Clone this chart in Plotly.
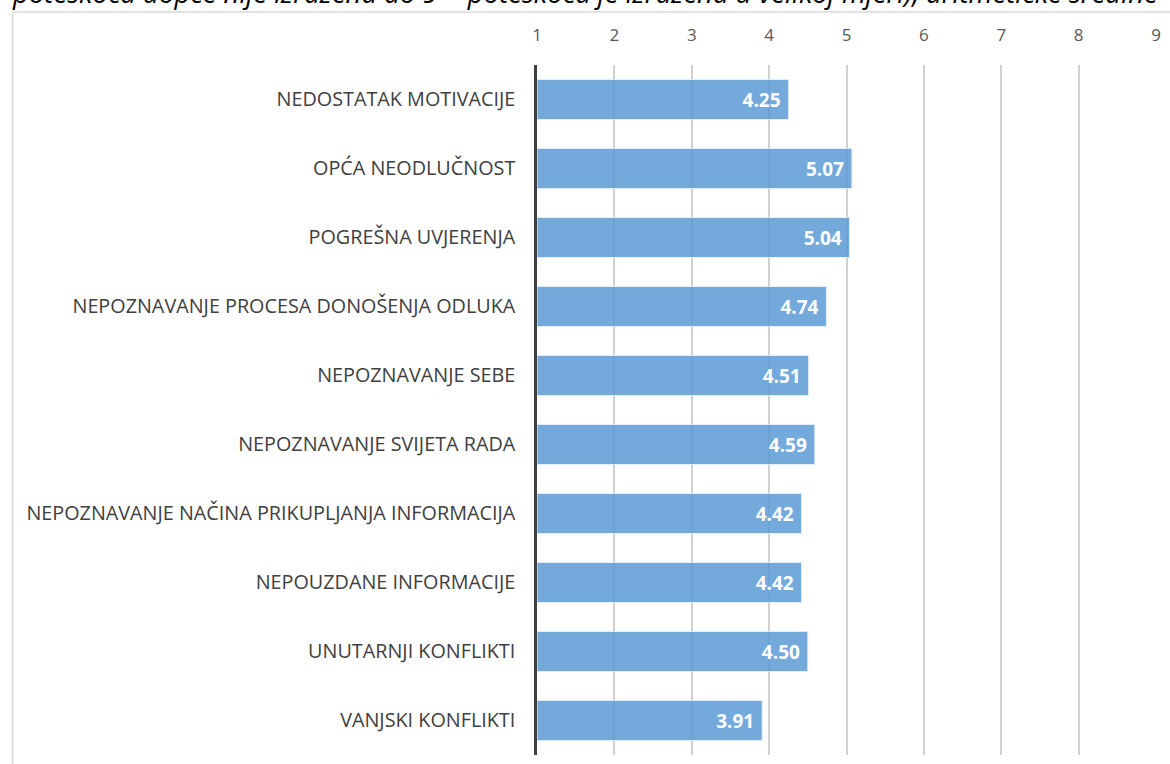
import plotly.graph_objects as go

categories = [
    "NEDOSTATAK MOTIVACIJE",
    "OPĆA NEODLUČNOST",
    "POGREŠNA UVJERENJA",
    "NEPOZNAVANJE PROCESA DONOŠENJA ODLUKA",
    "NEPOZNAVANJE SEBE",
    "NEPOZNAVANJE SVIJETA RADA",
    "NEPOZNAVANJE NAČINA PRIKUPLJANJA INFORMACIJA",
    "NEPOUZDANE INFORMACIJE",
    "UNUTARNJI KONFLIKTI",
    "VANJSKI KONFLIKTI",
]
values = [4.25, 5.07, 5.04, 4.74, 4.51, 4.59, 4.42, 4.42, 4.50, 3.91]
tick_vals = [1, 2, 3, 4, 5, 6, 7, 8, 9]
title_text = "poteškoća uopće nije izražena do 9 = poteškoća je izražena u velikoj mjeri), aritmetičke sredine"

FONT = "Open Sans"

fig = go.Figure()
fig.add_trace(go.Bar(
    y=categories,
    x=[v - 1 for v in values],
    base=1,
    orientation="h",
    marker=dict(color="#5B9BD5", opacity=0.85, line=dict(color="#DDEBF7", width=1)),
    text=[f"{v:.2f}\u00a0" for v in values],
    textposition="inside",
    insidetextanchor="end",
    textfont=dict(family=FONT, size=19, color="white", weight="bold"),
    cliponaxis=False,
    hoverinfo="skip",
))

fig.update_layout(
    width=1170, height=764,
    margin=dict(l=537, r=11, t=65, b=9),
    paper_bgcolor="white", plot_bgcolor="white",
    bargap=0.42,
    showlegend=False,
    font=dict(family=FONT, color="#404040"),
)
fig.update_xaxes(
    range=[1, 9], side="top", tickvals=tick_vals,
    showgrid=True, gridcolor="#D0D0D0", gridwidth=1.5,
    zeroline=False, showline=False, ticks="",
    tickfont=dict(family=FONT, size=17, color="#595959"),
    ticklabelstandoff=20,
)
fig.update_yaxes(
    categoryorder="array", categoryarray=categories, autorange="reversed",
    showline=True, linecolor="#404040", linewidth=2.5, ticks="",
    tickfont=dict(family=FONT, size=19.8, color="#404040"),
    ticklabelstandoff=15,
)

# frame of the chart area
fig.add_shape(type="line", xref="paper", yref="paper",
              x0=(10 - 537) / 622, x1=1.05, y0=(755 - 12) / 690, y1=(755 - 12) / 690,
              line=dict(color="#D9D9D9", width=1.5))
fig.add_shape(type="line", xref="paper", yref="paper",
              x0=(10 - 537) / 622, x1=(10 - 537) / 622, y0=(755 - 12) / 690, y1=-0.05,
              line=dict(color="#D9D9D9", width=1.5))

fig.add_annotation(
    text=title_text, xref="paper", yref="paper",
    x=(7 - 537) / 622, y=(755 - 13) / 690, xanchor="left", yanchor="bottom",
    showarrow=False, font=dict(family=FONT, size=27.5, color="#000000", style="italic"),
)

fig.write_html("out.html", config={"displayModeBar": False},
               post_script="document.body.style.margin='0';document.body.style.overflow='hidden';")
